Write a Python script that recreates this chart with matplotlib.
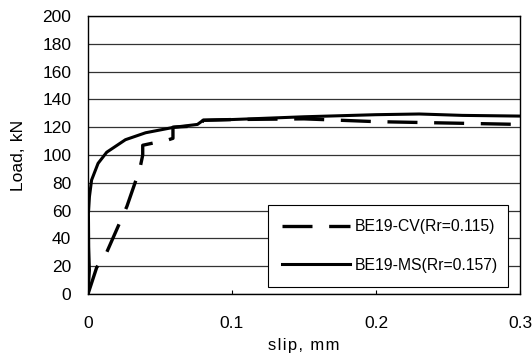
import matplotlib.pyplot as plt
from matplotlib.lines import Line2D

plt.rcParams['font.family'] = ['Liberation Sans', 'DejaVu Sans']

# BE19-CV (dashed) load-slip curve
cv_slip = [0, 0.006, 0.013, 0.027, 0.036, 0.038, 0.038, 0.056, 0.059, 0.059,
           0.078, 0.080, 0.10, 0.15, 0.20, 0.25, 0.30]
cv_load = [0, 19, 30, 63, 90, 100, 107, 111, 112, 120,
           121, 125, 125.5, 126, 124, 123, 122]

# BE19-MS (solid) load-slip curve
ms_slip = [0, 0.001, 0.0005, 0.0003, 0.001, 0.0025, 0.007, 0.013, 0.026, 0.040,
           0.060, 0.076, 0.080, 0.10, 0.15, 0.20, 0.23, 0.26, 0.30]
ms_load = [0, 17, 34, 58, 70, 82, 94, 102, 111, 116,
           120, 122, 125, 125.5, 127.5, 129, 129.5, 128.5, 128]

labels = ['BE19-CV(Rr=0.115)', 'BE19-MS(Rr=0.157)']
xticks = [0, 0.1, 0.2, 0.3]
xticklabels = ['0', '0.1', '0.2', '0.3']
yticks = list(range(0, 201, 20))

fig = plt.figure(figsize=(5.32, 3.59), dpi=100)
ax = fig.add_axes([88 / 532, 1 - 294 / 359, 432 / 532, 278 / 359])

dash = (0, (9, 5))
ax.plot(cv_slip, cv_load, color='black', lw=2.4, ls=dash)
ax.plot(ms_slip, ms_load, color='black', lw=2.2)

ax.set_xlim(0, 0.3)
ax.set_ylim(0, 200)
ax.set_xticks(xticks)
ax.set_xticklabels(xticklabels)
ax.set_yticks(yticks)
ax.tick_params(axis='x', direction='in', length=3, pad=16, labelsize=12.5)
ax.tick_params(axis='y', length=0, pad=12, labelsize=12.5)
ax.yaxis.grid(True, color='#333333', lw=0.9)
ax.set_axisbelow(True)
for s in ax.spines.values():
    s.set_color('black')
    s.set_linewidth(1)

ax.set_ylabel('Load,\u200a kN', fontsize=12.5, labelpad=12)
ax.set_xlabel('\u200a'.join('slip, mm'), fontsize=12, labelpad=5)

handles = [Line2D([], [], color='black', lw=2.4, ls=dash),
           Line2D([], [], color='black', lw=2.2)]
leg = ax.legend(handles, labels, loc='lower left',
                bbox_to_anchor=(0.417, 0.025, 0.555, 0.295), mode='expand',
                fontsize=11.3, handlelength=4.3, handletextpad=0.3,
                labelspacing=1.5, borderpad=0.9, fancybox=False,
                framealpha=1, edgecolor='black', borderaxespad=0)
leg.get_frame().set_linewidth(0.8)

fig.savefig('out.png', dpi=100)
